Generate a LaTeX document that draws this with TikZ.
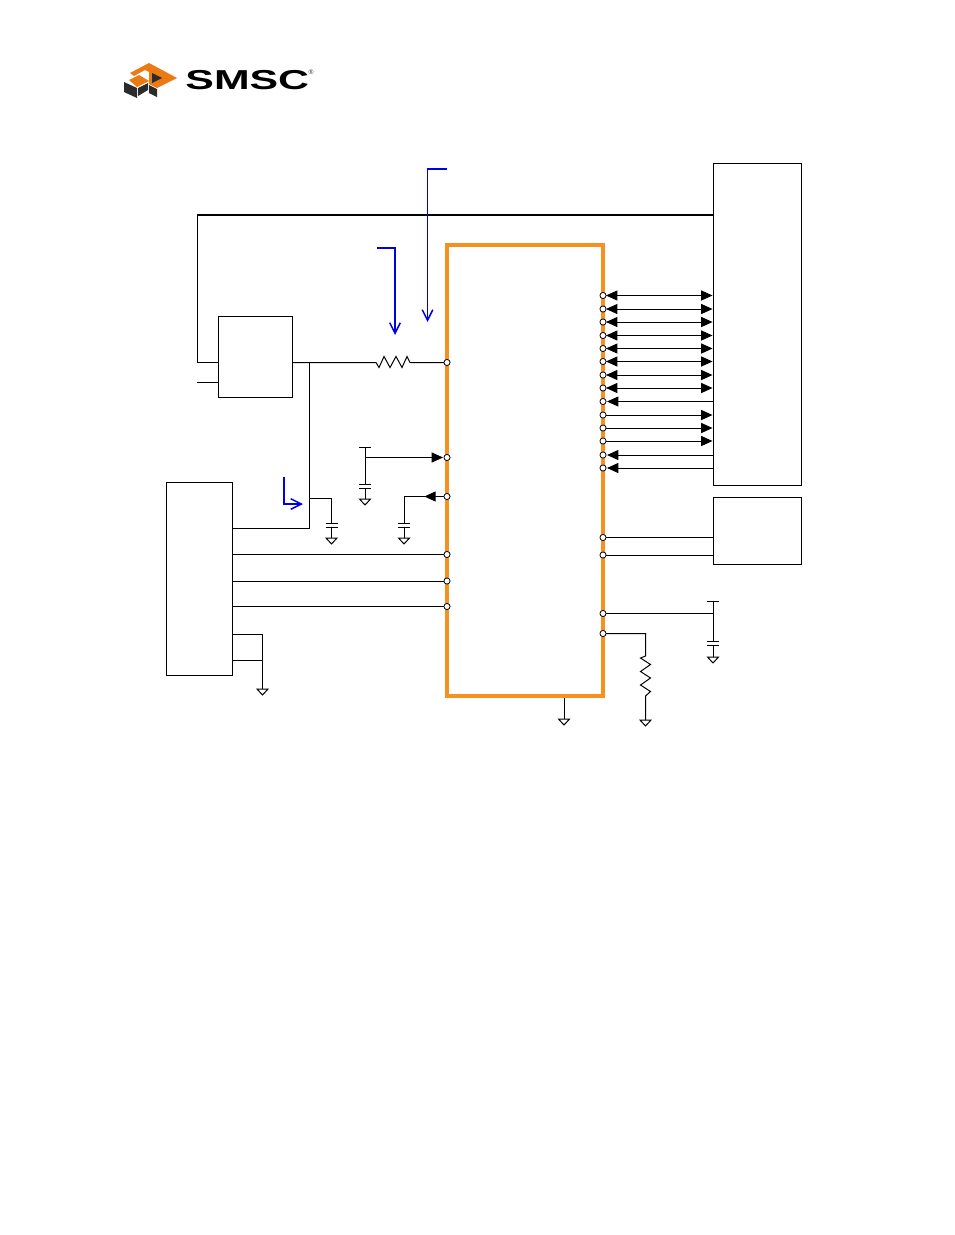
\documentclass[tikz,border=0pt]{standalone}
\usepackage{fontspec}
\setmainfont{Liberation Sans}
\usepackage{xcolor}
\usetikzlibrary{arrows.meta}
\definecolor{chiporange}{HTML}{F7901E}
\definecolor{logoorange}{HTML}{EC7A12}
\definecolor{bluenote}{HTML}{0000E6}
\definecolor{logodark}{HTML}{2B2B2B}
\tikzset{
  pinnode/.style={circle,draw,fill=white,line width=0.6pt,inner sep=0pt,minimum size=4.6pt},
  boxnode/.style={draw,line width=0.7pt,inner sep=0pt},
  wire/.style={line width=0.75pt},
  sig/.style={wire,-{Triangle[length=8.5pt,width=7.5pt]}},
  bidir/.style={wire,{Triangle[length=8.5pt,width=7.5pt]}-{Triangle[length=8.5pt,width=7.5pt]}},
  note/.style={bluenote,line width=1.1pt,-{Straight Barb[length=8pt,width=8pt]}}
}
\newcommand{\gndsym}[1]{%
  \draw[wire] (#1) ++(-5.5,0) -- ++(11,0) -- ++(-5.5,6) -- cycle;}
\newcommand{\capsym}[1]{%
  \fill[white] (#1) ++(-7,-2) rectangle ++(14,4);
  \draw[wire] (#1) ++(-6,-2) -- ++(12,0) (#1) ++(-6,2) -- ++(12,0);}
\begin{document}
\begin{tikzpicture}[x=0.75pt,y=-0.75pt]
\useasboundingbox (0,0) rectangle (954,1235);

% logo
\fill[logoorange] (130,73) -- (149,63) -- (177,78) -- (157,88) -- (149,84) -- (149,72) -- (145,70) -- (134,76) -- cycle;
\fill[logoorange] (129,80) -- (139,75) -- (149,81) -- (137,87) -- cycle;
\fill[logodark] (152,73) -- (162,78) -- (152,83) -- cycle;
\fill[logodark] (124,82) -- (137,88) -- (137,98) -- (124,92) -- cycle;
\fill[logodark] (138,88) -- (148,83) -- (148,90) -- (138,96) -- cycle;
\fill[logodark] (149,85) -- (157,89) -- (157,97) -- (149,93) -- cycle;
\node[inner sep=0pt,anchor=west,font=\bfseries,xscale=1.69,yscale=1.08,text=black] (logotext) at (185,80.5) {\fontsize{19}{19}\selectfont SMSC};
\node[inner sep=0pt,font=\fontsize{5}{5}\selectfont,text=logodark] (logoreg) at (311,72.5) {\textregistered};

% boxes
\node[boxnode,minimum width=66pt,minimum height=241.5pt] (conn) at (757,324) {};
\node[boxnode,minimum width=66pt,minimum height=50.25pt] (flash) at (757,530.5) {};
\node[boxnode,minimum width=55.5pt,minimum height=60.75pt] (reg) at (255,356.5) {};
\node[boxnode,minimum width=49.5pt,minimum height=144.75pt] (host) at (199,578.5) {};
\node[draw=chiporange,line width=2.6pt,minimum width=117pt,minimum height=338.25pt,inner sep=0pt] (chip) at (525,470.5) {};

% left pins
\foreach \name/\ypos in {lp0/362.5,lp1/457.5,lp2/496.5,lp3/554.5,lp4/581,lp5/606.5}
  \coordinate (\name) at (447,\ypos);
% right pins
\foreach \name/\ypos in {rp0/295.5,rp1/309,rp2/322,rp3/335.5,rp4/348.5,rp5/361.5,rp6/375,rp7/388,rp8/401.5,rp9/415,rp10/428,rp11/441,rp12/455,rp13/468,rp14/537.5,rp15/555,rp16/613.5,rp17/633.5}
  \coordinate (\name) at (603,\ypos);

% bus lines to the connector
\foreach \name in {rp0,rp1,rp2,rp3,rp4,rp5,rp6,rp7}
  \draw[bidir] (\name) ++(3,0) -- (\name -| conn.west);
\foreach \name in {rp8,rp12,rp13}
  \draw[sig] (\name -| conn.west) -- ([xshift=3]\name);
\foreach \name in {rp9,rp10,rp11}
  \draw[sig] (\name) -- (\name -| conn.west);
\foreach \name in {rp14,rp15}
  \draw[wire] (\name) -- (\name -| flash.west);

% top supply loop
\coordinate (toptee) at (197,215);
\coordinate (regin) at (218,362);
\coordinate (regen) at (197,382);
\draw[line width=1.1pt] (toptee -| conn.west) -- (toptee);
\draw[wire] (toptee) |- (regin);
\draw[wire] (regen) -- (regen -| reg.west);

% reset line with resistor
\coordinate (resA) at (376,362.5);
\coordinate (resB) at (410,362.5);
\coordinate (junc) at (309.5,362);
\draw[wire] (reg.east |- lp0) -- (resA)
  -- ++(3,5) -- ++(5,-11) -- ++(6,11) -- ++(6,-11) -- ++(6,11) -- ++(5,-11) -- (resB) -- (lp0);
\coordinate (hostout) at (232,528);
\coordinate (capAtop) at (331.5,498);
\coordinate (capA) at (331.5,525);
\coordinate (gndA) at (331.5,538);
\draw[wire] (junc) |- (hostout);
\draw[wire] (junc |- capAtop) -| (gndA);
\capsym{capA}
\gndsym{gndA}

% supply cap at pin
\coordinate (railB) at (365,447);
\coordinate (capB) at (365,486);
\coordinate (gndB) at (365,499);
\draw[wire] (railB) ++(-6,0) -- ++(12,0);
\draw[wire] (railB) -- (gndB);
\draw[sig] (railB |- lp1) -- ([xshift=-3]lp1);
\capsym{capB}
\gndsym{gndB}

\coordinate (capC) at (404,525);
\coordinate (gndC) at (404,538);
\draw[wire] (gndC) |- (lp2);
\draw[sig] (lp2) -- ([xshift=-17]lp2);
\capsym{capC}
\gndsym{gndC}

% host lines
\foreach \name in {lp3,lp4,lp5}
  \draw[wire] (\name -| host.east) -- (\name);
\coordinate (hostgA) at (232,634);
\coordinate (hostgB) at (232,660);
\coordinate (gndD) at (262.5,689);
\draw[wire] (hostgA) -| (gndD);
\draw[wire] (hostgB) -- (hostgB -| gndD);
\gndsym{gndD}

% chip ground
\coordinate (gndE) at (564,719);
\draw[wire] (chip.south -| gndE) -- (gndE);
\gndsym{gndE}

% right lower pins
\coordinate (railF) at (713,601);
\coordinate (capF) at (713,643);
\coordinate (gndF) at (713,657);
\draw[wire] (railF) ++(-6,0) -- ++(12,0);
\draw[wire] (rp16) -- (rp16 -| railF);
\draw[wire] (railF) -- (gndF);
\capsym{capF}
\gndsym{gndF}

\coordinate (resC) at (645.5,656);
\coordinate (gndG) at (645.5,720);
\draw[wire] (rp17) -| (resC) -- ++(-5,2) -- ++(10,6.5) -- ++(-10,7) -- ++(10,6.5) -- ++(-10,7) -- ++(10,6.5) -- ++(-5,4.5) -- (gndG);
\gndsym{gndG}

% blue notes
\coordinate (noteA) at (447,169);
\coordinate (noteAend) at (427.5,322);
\draw[note] (noteA) -- (noteA -| noteAend) -- (noteAend);
\coordinate (noteB) at (377,248);
\coordinate (noteBend) at (395,335);
\draw[note] (noteB) -- (noteB -| noteBend) -- (noteBend);
\coordinate (noteC) at (284,477);
\coordinate (noteCend) at (303,504);
\draw[note] (noteC) |- (noteCend);

% pin circles drawn last
\foreach \name in {lp0,lp1,lp2,lp3,lp4,lp5,rp0,rp1,rp2,rp3,rp4,rp5,rp6,rp7,rp8,rp9,rp10,rp11,rp12,rp13,rp14,rp15,rp16,rp17}
  \node[pinnode] (c\name) at (\name) {};

\end{tikzpicture}
\end{document}
